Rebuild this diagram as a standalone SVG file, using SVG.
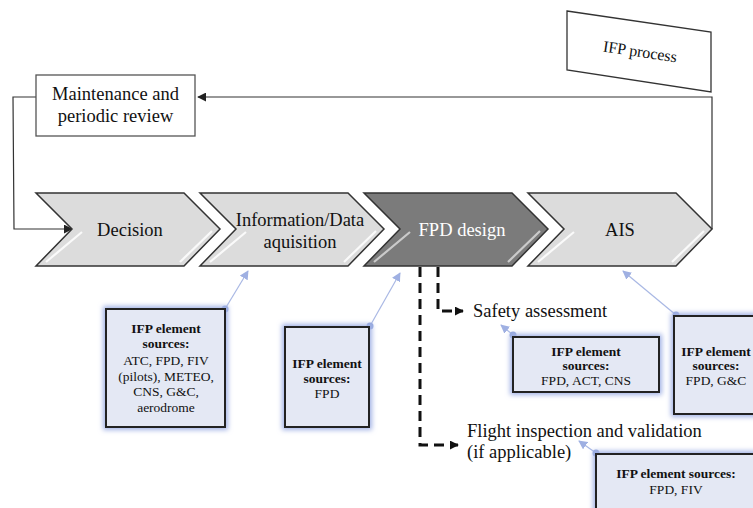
<svg xmlns="http://www.w3.org/2000/svg" width="753" height="508" viewBox="0 0 753 508" font-family="'Liberation Serif','Times New Roman',serif">
<defs>
<style>
text{font-family:"Liberation Serif","Times New Roman",serif;fill:#111}
.lbl{font-size:18.5px}
.chev{fill:#dcdcdc;stroke:#333;stroke-width:1.5}
.chevd{fill:#7b7b7b;stroke:#333;stroke-width:1.5}
.gloss{stroke:#fff;stroke-width:2.2;opacity:0.85;fill:none}
.box{fill:#fff;stroke:#555;stroke-width:1.3}
.blue{fill:#e4e8f4;stroke:#222;stroke-width:2;filter:url(#glow)}
.bt{font-size:13.5px;text-anchor:middle}
.bb{font-weight:bold}
.fb{fill:none;stroke:#333;stroke-width:1.2}
.bl{fill:none;stroke:#a9b8e4;stroke-width:1.2}
.dash{fill:none;stroke:#111;stroke-width:3;stroke-dasharray:10,6}
.dot{fill:#93a6dc}
</style>
<marker id="ab" viewBox="0 0 10 10" refX="9" refY="5" markerWidth="9" markerHeight="9" markerUnits="userSpaceOnUse" orient="auto"><path d="M0,0L10,5L0,10z" fill="#222"/></marker>
<marker id="ad" viewBox="0 0 10 10" refX="9" refY="5" markerWidth="9" markerHeight="9" markerUnits="userSpaceOnUse" orient="auto"><path d="M0,0L10,5L0,10z" fill="#111"/></marker>
<marker id="abl" viewBox="0 0 10 10" refX="9" refY="5" markerWidth="9" markerHeight="9" markerUnits="userSpaceOnUse" orient="auto"><path d="M0,0L10,5L0,10z" fill="#9fb0e2"/></marker>
<filter id="glow" x="-20%" y="-20%" width="140%" height="140%">
<feMorphology in="SourceAlpha" operator="dilate" radius="2" result="d"/>
<feGaussianBlur in="d" stdDeviation="2.5" result="b"/>
<feFlood flood-color="#a3b3e6"/>
<feComposite in2="b" operator="in" result="g"/>
<feMerge><feMergeNode in="g"/><feMergeNode in="SourceGraphic"/></feMerge>
</filter>
</defs>

<g id="connectors">
<polyline class="fb" points="712,229 712,97 198,97" marker-end="url(#ab)"/>
<polyline class="fb" points="36,97 13,97 14,229 72,229" marker-end="url(#ab)"/>
<polyline class="dash" points="438,267 438,311 463,311" marker-end="url(#ad)"/>
<polyline class="dash" points="420,267 420,445 458,445" marker-end="url(#ad)"/>
<line class="bl" x1="225" y1="309" x2="248" y2="271" marker-end="url(#abl)"/>
<line class="bl" x1="370" y1="326" x2="400" y2="273" marker-end="url(#abl)"/>
<line class="bl" x1="513" y1="335" x2="501" y2="325" marker-end="url(#abl)"/>
<line class="bl" x1="676" y1="315" x2="623" y2="271" marker-end="url(#abl)"/>
<line class="bl" x1="596" y1="453" x2="579" y2="441" marker-end="url(#abl)"/>
<circle class="dot" cx="225" cy="309" r="3.5"/>
<circle class="dot" cx="370" cy="326" r="3.5"/>
<circle class="dot" cx="513" cy="335" r="3.5"/>
<circle class="dot" cx="676" cy="315" r="3.5"/>
<circle class="dot" cx="596" cy="453" r="3.5"/>
</g>

<g id="ifp-process">
<polygon class="box" points="567,11 711,32 711,92 567,70" style="stroke:#333"/>
<text x="640" y="57" font-size="16" text-anchor="middle" transform="rotate(8.3 640 52)">IFP process</text>
</g>

<g id="maintenance">
<rect class="box" x="36" y="75" width="159" height="61"/>
<text class="lbl" x="115.5" y="100" text-anchor="middle">Maintenance and</text>
<text class="lbl" x="115.5" y="122" text-anchor="middle">periodic review</text>
</g>

<g id="decision">
<polygon class="chev" points="36,193 184,193 220,229 184,266 36,266 72,229"/>
<path class="gloss" d="M46,262L82,232M180,262L212,231"/>
<text class="lbl" x="130" y="236" text-anchor="middle">Decision</text>
</g>

<g id="information">
<polygon class="chev" points="200,193 348,193 384,229 348,266 200,266 236,229"/>
<path class="gloss" d="M210,262L246,232M344,262L376,231"/>
<text class="lbl" x="300" y="226" text-anchor="middle">Information/Data</text>
<text class="lbl" x="300" y="248" text-anchor="middle">aquisition</text>
</g>

<g id="fpd-design">
<polygon class="chevd" points="364,193 512,193 548,229 512,266 364,266 400,229"/>
<path class="gloss" d="M374,262L410,232M508,262L540,231" style="opacity:0.6"/>
<text class="lbl" x="462" y="236" text-anchor="middle" style="fill:#fff">FPD design</text>
</g>

<g id="ais">
<polygon class="chev" points="528,193 676,193 712,229 676,266 528,266 564,229"/>
<path class="gloss" d="M538,262L574,232M672,262L704,231"/>
<text class="lbl" x="620" y="236" text-anchor="middle">AIS</text>
</g>

<g id="safety-assessment">
<text class="lbl" x="473" y="317">Safety assessment</text>
</g>

<g id="flight-inspection">
<text class="lbl" x="467" y="437">Flight inspection and validation</text>
<text class="lbl" x="467" y="458">(if applicable)</text>
</g>

<g id="src-info">
<rect class="blue" x="106" y="309" width="119" height="118"/>
<text class="bt bb" x="166" y="333">IFP element</text>
<text class="bt bb" x="166" y="348">sources:</text>
<text class="bt" x="166" y="365">ATC, FPD, FIV</text>
<text class="bt" x="166" y="381">(pilots), METEO,</text>
<text class="bt" x="166" y="396">CNS, G&amp;C,</text>
<text class="bt" x="166" y="412">aerodrome</text>
</g>

<g id="src-fpd">
<rect class="blue" x="285" y="327" width="84" height="100"/>
<text class="bt bb" x="327" y="368">IFP element</text>
<text class="bt bb" x="327" y="383">sources:</text>
<text class="bt" x="327" y="398">FPD</text>
</g>

<g id="src-safety">
<rect class="blue" x="513" y="337" width="146" height="55"/>
<text class="bt bb" x="586" y="356">IFP element</text>
<text class="bt bb" x="586" y="370">sources:</text>
<text class="bt" x="586" y="385">FPD, ACT, CNS</text>
</g>

<g id="src-ais">
<rect class="blue" x="674" y="316" width="90" height="98"/>
<text class="bt bb" x="716" y="356">IFP element</text>
<text class="bt bb" x="716" y="370">sources:</text>
<text class="bt" x="716" y="385">FPD, G&amp;C</text>
</g>

<g id="src-flight">
<rect class="blue" x="596" y="454" width="170" height="70"/>
<text class="bt bb" x="676" y="478">IFP element sources:</text>
<text class="bt" x="676" y="494">FPD,  FIV</text>
</g>
</svg>
